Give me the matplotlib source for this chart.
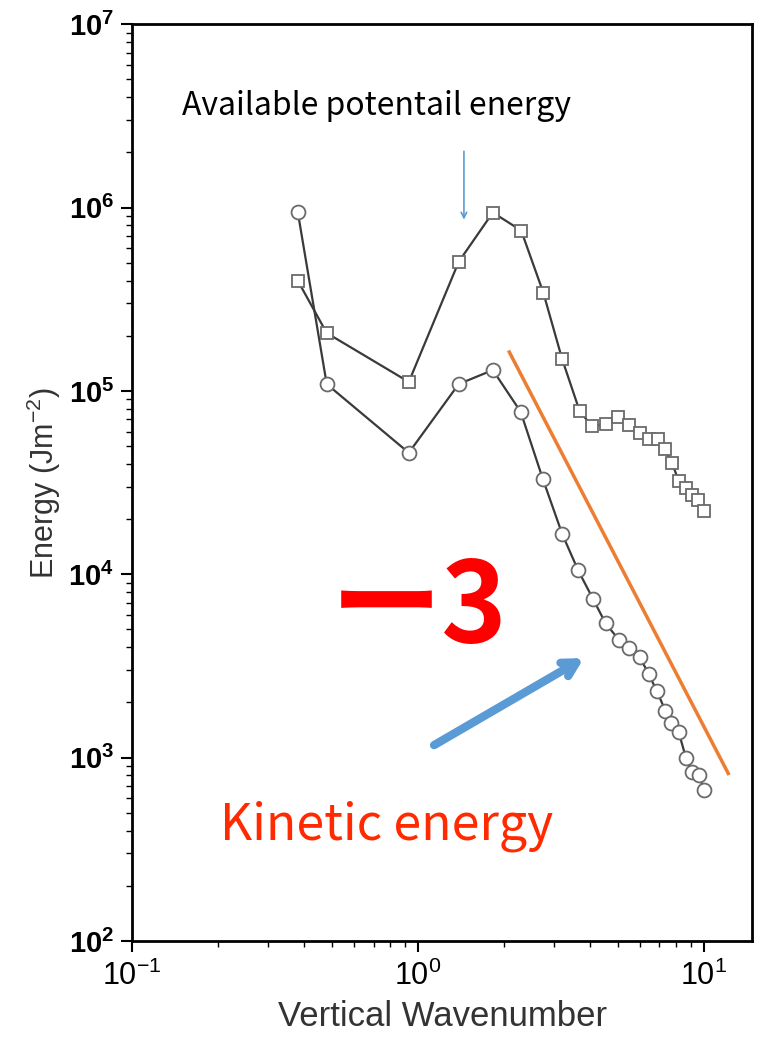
import numpy as np
import matplotlib.pyplot as plt

plt.rcParams['font.family'] = 'Liberation Sans'
plt.rcParams['mathtext.fontset'] = 'custom'
plt.rcParams['mathtext.rm'] = 'Liberation Sans'
plt.rcParams['mathtext.bf'] = 'Liberation Sans:bold'

# vertical wavenumber spectra of energy
ke_k = [0.38, 0.48, 0.93, 1.39, 1.83, 2.29, 2.74, 3.20, 3.64, 4.11, 4.54, 5.05, 5.5,
        5.97, 6.43, 6.87, 7.35, 7.71, 8.18, 8.67, 9.1, 9.6, 10.05]
ke_e = [9.5e5, 1.09e5, 4.6e4, 1.09e5, 1.30e5, 7.7e4, 3.3e4, 1.66e4, 1.05e4, 7.3e3, 5.4e3,
        4.4e3, 3.95e3, 3.55e3, 2.85e3, 2.3e3, 1.8e3, 1.54e3, 1.38e3, 1.0e3, 8.4e2, 8.0e2, 6.7e2]

ape_k = [0.38, 0.48, 0.93, 1.39, 1.83, 2.30, 2.75, 3.20, 3.68, 4.07, 4.54, 5.02, 5.5,
         5.98, 6.43, 6.91, 7.31, 7.75, 8.18, 8.67, 9.1, 9.55, 10.05]
ape_e = [4.0e5, 2.07e5, 1.12e5, 5.06e5, 9.4e5, 7.5e5, 3.43e5, 1.49e5, 7.8e4, 6.4e4, 6.6e4,
         7.2e4, 6.5e4, 5.9e4, 5.5e4, 5.45e4, 4.8e4, 4.05e4, 3.24e4, 2.94e4, 2.7e4, 2.54e4, 2.21e4]

# reference k^-3 slope
slope_k = [2.09, 12.2]
slope_ref = 1.63e5

fig = plt.figure(figsize=(7.61, 10.37), dpi=100)
ax = fig.add_axes([0.1735, 0.0926, 0.815, 0.884])

ax.plot(ke_k, ke_e, '-', color='#3a3a3a', lw=1.6, marker='o', ms=10,
        mfc='white', mec='#6a6a6a', mew=1.3)
ax.plot(ape_k, ape_e, '-', color='#3a3a3a', lw=1.6, marker='s', ms=8,
        mfc='white', mec='#6a6a6a', mew=1.3)

sk = np.array(slope_k)
ax.plot(sk, slope_ref * (sk / sk[0]) ** -3, color='#ed7d31', lw=2.5)

ax.set_xscale('log')
ax.set_yscale('log')
ax.set_xlim(0.1, 14.8)
ax.set_ylim(1e2, 1e7)

for s in ax.spines.values():
    s.set_linewidth(2)
ax.tick_params(which='both', direction='out', top=False, right=False)
ax.tick_params(which='major', length=8, width=1.5)
ax.tick_params(which='minor', length=4, width=1)
ax.tick_params(axis='y', labelsize=21, pad=5)
ax.tick_params(axis='x', labelsize=22, pad=6)
for lab in ax.get_yticklabels():
    lab.set_fontweight('bold')

ax.set_xlabel('Vertical Wavenumber', fontsize=25, color='#333333', labelpad=6)
ax.set_ylabel('Energy (Jm$^{-2}$)', fontsize=22, color='#333333', labelpad=4)

# annotations
ax.text(0.716, 3.57e6, 'Available potentail energy', fontsize=23, ha='center', va='center',
        family='Noto Sans CJK JP', color='black')
ax.annotate('', xy=(1.45, 8.3e5), xytext=(1.45, 2.1e6),
            arrowprops=dict(arrowstyle='->', color='#5b9bd5', lw=1.2))
ax.text(1.01, 6.4e3, 'ー3', fontsize=80, fontweight='bold', ha='center', va='center',
        family=['Noto Sans CJK JP', 'DejaVu Sans'], color='#ff0000')
ax.annotate('', xy=(3.81, 3.49e3), xytext=(1.14, 1.17e3),
            arrowprops=dict(arrowstyle='->,head_length=1.0,head_width=0.55',
                            color='#5b9bd5', lw=6, shrinkA=0, shrinkB=0,
                            capstyle='round', joinstyle='round'))
ax.text(0.776, 4.24e2, 'Kinetic energy', fontsize=36, ha='center', va='center',
        family='Noto Sans CJK JP', color='#ff2a00')

fig.savefig('out.png', dpi=100)
